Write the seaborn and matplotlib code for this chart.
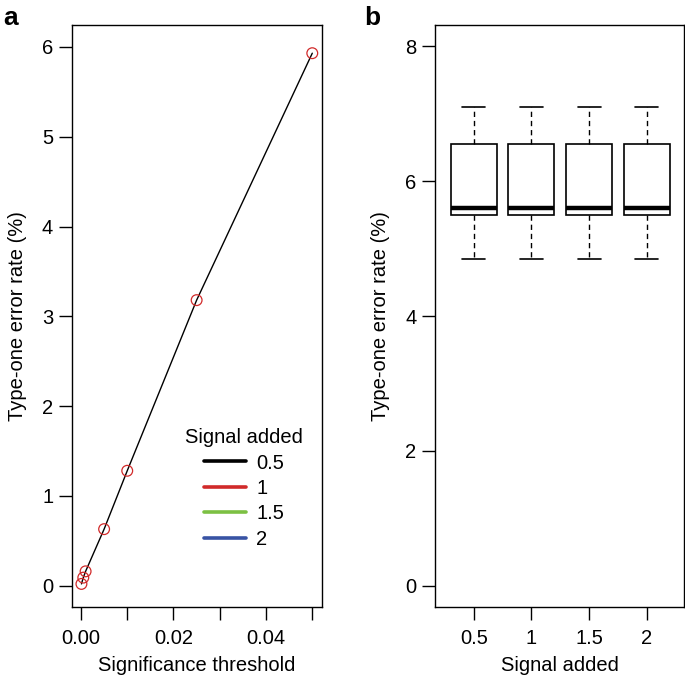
# two panels: type-one error vs threshold (a) and vs signal added (b)
import pandas as pd
import matplotlib
matplotlib.use("Agg")
import matplotlib.pyplot as plt
from matplotlib.lines import Line2D
import seaborn as sns

# panel a data
threshold = [0.0001, 0.0005, 0.001, 0.005, 0.01, 0.025, 0.05]
error_rate = [0.02, 0.09, 0.16, 0.63, 1.28, 3.18, 5.93]

# legend
signal_levels = ["0.5", "1", "1.5", "2"]
signal_colors = ["#000000", "#d12a2a", "#7cc043", "#3853a4"]

# panel b data (box stats are the same for every signal level)
box_values = [4.85, 5.5, 5.6, 6.55, 7.1]

FS = 14.5

sns.set_style("ticks")
plt.rcParams["font.family"] = ["Liberation Sans", "DejaVu Sans"]
plt.rcParams["font.size"] = FS
plt.rcParams["text.color"] = "black"
plt.rcParams["axes.labelcolor"] = "black"

fig = plt.figure(figsize=(6.85, 6.77), dpi=100)
W, H = 685, 677

def px_axes(x0, y0, x1, y1):
    return fig.add_axes([x0 / W, 1 - y1 / H, (x1 - x0) / W, (y1 - y0) / H])

def r_style(ax):
    for s in ax.spines.values():
        s.set_visible(True)
        s.set_linewidth(1.0)
        s.set_color("black")
    ax.tick_params(axis="both", direction="out", length=9.5, width=1.0,
                   labelsize=FS, colors="black")
    ax.tick_params(axis="x", pad=6)
    ax.tick_params(axis="y", pad=4)

# ---- panel a
ax1 = px_axes(72, 25, 322, 607)
sns.lineplot(x=threshold, y=error_rate, color="black", linewidth=1.0, ax=ax1)
sns.scatterplot(x=threshold, y=error_rate, marker="o", s=60, facecolor="none",
                edgecolor="#d12a2a", linewidth=0.9, ax=ax1, zorder=3)
ax1.set_xlim(-0.00194, 0.0521)
ax1.set_ylim(-0.237, 6.244)
ax1.set_xticks([0, 0.01, 0.02, 0.03, 0.04, 0.05])
ax1.set_xticklabels(["0.00", "", "0.02", "", "0.04", ""])
ax1.set_yticks(range(0, 7))
ax1.set_xlabel("Significance threshold", fontsize=FS, labelpad=6)
ax1.set_ylabel("Type-one error rate (%)", fontsize=FS, labelpad=11)
r_style(ax1)

handles = [Line2D([], [], color=c, linewidth=2.6) for c in signal_colors]
leg = fig.legend(handles, signal_levels, title="Signal added", loc="upper center",
                 bbox_to_anchor=(244 / W, 1 - 418 / H), frameon=False, fontsize=FS,
                 title_fontsize=FS, borderpad=0, labelspacing=0.32,
                 handlelength=2.1, handletextpad=0.5)

# ---- panel b
box_df = pd.DataFrame({
    "signal": [s for s in signal_levels for _ in box_values],
    "rate": box_values * len(signal_levels),
})
ax2 = px_axes(435, 25, 684, 607)
sns.boxplot(data=box_df, x="signal", y="rate", order=signal_levels, color="white",
            linecolor="black", linewidth=1.2, width=0.8, showfliers=False,
            medianprops={"linewidth": 3.2, "color": "black"},
            whiskerprops={"linestyle": (0, (3.8, 2.8)), "linewidth": 1.0},
            ax=ax2)
ax2.set_xlim(-0.671, 3.645)
ax2.set_ylim(-0.316, 8.316)
ax2.set_yticks([0, 2, 4, 6, 8])
ax2.set_xlabel("Signal added", fontsize=FS, labelpad=6)
ax2.set_ylabel("Type-one error rate (%)", fontsize=FS, labelpad=11)
r_style(ax2)

# panel letters
fig.text(3 / W, 1 - 25 / H, "a", fontsize=19, fontweight="bold", va="baseline")
fig.text(364 / W, 1 - 25 / H, "b", fontsize=19, fontweight="bold", va="baseline")

fig.savefig("out.png", dpi=100)
